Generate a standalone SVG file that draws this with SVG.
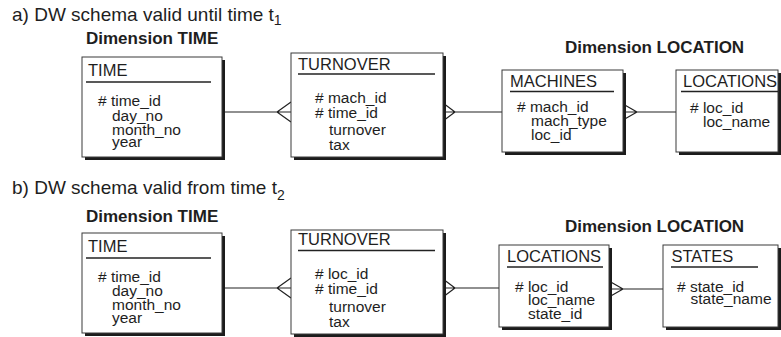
<svg xmlns="http://www.w3.org/2000/svg" width="781" height="337" viewBox="0 0 781 337">
  <style>
    .bg { fill: #ffffff; }
    .shadow { fill: #1c1c1c; }
    .box { fill: #ffffff; stroke: #3a3a3a; stroke-width: 1; }
    .rule { stroke: #222; stroke-width: 1.3; }
    .conn { fill: none; stroke: #222; stroke-width: 1.2; }
    text { font-family: "Liberation Sans", Arial, sans-serif; fill: #1e1e1e; }
    .head { font-size: 19px; }
    .sub { font-size: 14px; }
    .dim { font-size: 17px; font-weight: bold; }
    .title { font-size: 16.5px; }
    .attr { font-size: 15.5px; }
  </style>

  <rect class="bg" x="0" y="0" width="781" height="337"/>

  <!-- section headings -->
  <text class="head" x="12" y="21">a) DW schema valid until time t<tspan class="sub" dy="4">1</tspan></text>
  <text class="head" x="12" y="193.5">b) DW schema valid from time t<tspan class="sub" dy="6">2</tspan></text>
  <text class="dim" x="86" y="44">Dimension TIME</text>
  <text class="dim" x="565" y="53">Dimension LOCATION</text>
  <text class="dim" x="86" y="221.5">Dimension TIME</text>
  <text class="dim" x="565" y="231.5">Dimension LOCATION</text>

  <!-- connectors (crow's feet on the many side) -->
  <g id="connectors">
    <path class="conn" d="M222 112 H291 M291 102 L277 112 L291 122"/>
    <path class="conn" d="M443 112 H502 M443 103 L455 112 L443 121"/>
    <path class="conn" d="M623 112 H676 M623 104 L637 112 L623 120"/>
    <path class="conn" d="M222 288 H291 M291 278 L277 288 L291 298"/>
    <path class="conn" d="M443 288 H499 M443 279 L455 288 L443 297"/>
    <path class="conn" d="M609 289 H663 M609 281 L623 289 L609 297"/>
  </g>

  <!-- schema a -->
  <g id="time-a">
    <rect class="shadow" x="85" y="60" width="140" height="100"/>
    <rect class="box" x="82" y="57" width="140" height="100"/>
    <text class="title" x="88" y="76">TIME</text>
    <line class="rule" x1="86" y1="82" x2="211" y2="82"/>
    <text class="attr" x="98" y="106"># time_id</text>
    <text class="attr" x="112" y="120.5">day_no</text>
    <text class="attr" x="112" y="134.5">month_no</text>
    <text class="attr" x="112" y="146.5">year</text>
  </g>

  <g id="turnover-a">
    <rect class="shadow" x="294" y="56" width="152" height="104"/>
    <rect class="box" x="291" y="53" width="152" height="104"/>
    <text class="title" x="298" y="69.5">TURNOVER</text>
    <line class="rule" x1="298" y1="74" x2="435" y2="74"/>
    <text class="attr" x="315" y="102.5"># mach_id</text>
    <text class="attr" x="315" y="118"># time_id</text>
    <text class="attr" x="329" y="135">turnover</text>
    <text class="attr" x="329" y="149.5">tax</text>
  </g>

  <g id="machines-a">
    <rect class="shadow" x="505" y="73" width="121" height="82"/>
    <rect class="box" x="502" y="70" width="121" height="82"/>
    <text class="title" x="510" y="86.5">MACHINES</text>
    <line class="rule" x1="510" y1="91.5" x2="614" y2="91.5"/>
    <text class="attr" x="517" y="111.5"># mach_id</text>
    <text class="attr" x="531" y="126">mach_type</text>
    <text class="attr" x="531" y="140">loc_id</text>
  </g>

  <g id="locations-a">
    <rect class="shadow" x="679" y="73" width="102" height="82"/>
    <rect class="box" x="676" y="70" width="102" height="82"/>
    <text class="title" x="683" y="86.5">LOCATIONS</text>
    <line class="rule" x1="681" y1="91.5" x2="778" y2="91.5"/>
    <text class="attr" x="690" y="112.5"># loc_id</text>
    <text class="attr" x="703" y="127">loc_name</text>
  </g>

  <!-- schema b -->
  <g id="time-b">
    <rect class="shadow" x="85" y="236" width="140" height="100"/>
    <rect class="box" x="82" y="233" width="140" height="100"/>
    <text class="title" x="88" y="251.5">TIME</text>
    <line class="rule" x1="86" y1="258" x2="211" y2="258"/>
    <text class="attr" x="98" y="281.5"># time_id</text>
    <text class="attr" x="112" y="296">day_no</text>
    <text class="attr" x="112" y="309.5">month_no</text>
    <text class="attr" x="112" y="322.5">year</text>
  </g>

  <g id="turnover-b">
    <rect class="shadow" x="294" y="233" width="152" height="104"/>
    <rect class="box" x="291" y="230" width="152" height="104"/>
    <text class="title" x="298" y="245">TURNOVER</text>
    <line class="rule" x1="298" y1="250.5" x2="435" y2="250.5"/>
    <text class="attr" x="315" y="278.5"># loc_id</text>
    <text class="attr" x="315" y="293.5"># time_id</text>
    <text class="attr" x="329" y="311.5">turnover</text>
    <text class="attr" x="329" y="326.5">tax</text>
  </g>

  <g id="locations-b">
    <rect class="shadow" x="502" y="248" width="110" height="82"/>
    <rect class="box" x="499" y="245" width="110" height="82"/>
    <text class="title" x="507" y="261.5">LOCATIONS</text>
    <line class="rule" x1="507" y1="267" x2="603" y2="267"/>
    <text class="attr" x="515" y="291.5"># loc_id</text>
    <text class="attr" x="528" y="304.5">loc_name</text>
    <text class="attr" x="528" y="319">state_id</text>
  </g>

  <g id="states-b">
    <rect class="shadow" x="666" y="248" width="115" height="82"/>
    <rect class="box" x="663" y="245" width="115" height="82"/>
    <text class="title" x="671.5" y="261.5">STATES</text>
    <line class="rule" x1="671" y1="267" x2="758" y2="267"/>
    <text class="attr" x="677" y="291.5"># state_id</text>
    <text class="attr" x="690.5" y="304">state_name</text>
  </g>
</svg>
